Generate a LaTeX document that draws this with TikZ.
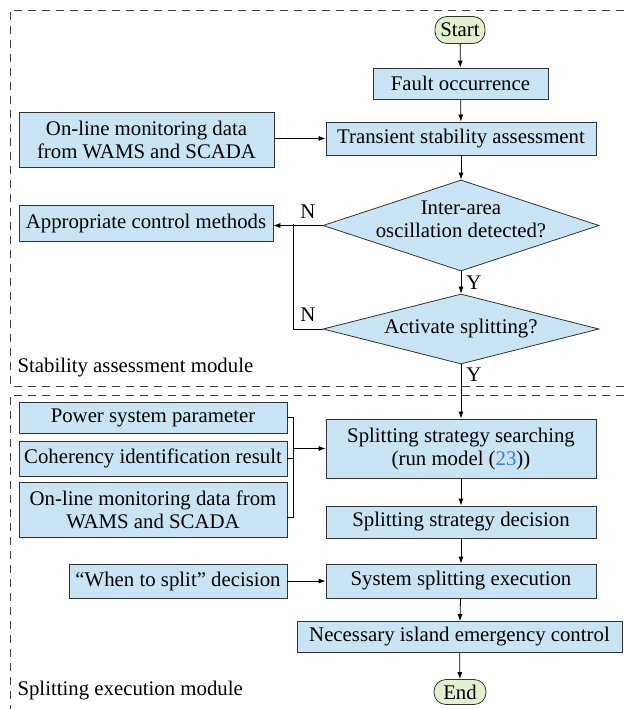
\documentclass[tikz,border=0pt]{standalone}
\usepackage{fontspec}
\setmainfont{Liberation Serif}
\usetikzlibrary{arrows.meta,shapes.geometric}

\definecolor{boxblue}{RGB}{200,228,245}
\definecolor{startgreen}{RGB}{226,240,205}
\definecolor{refblue}{RGB}{60,130,195}

\begin{document}
\begin{tikzpicture}[x=1pt,y=-1pt]

    % --- Grundeinstellungen für Styles ---
    % Eine Einheit entspricht einem Pixel des Bildes (y nach unten)
    \tikzset{
        process/.style={draw=black!80, line width=0.8pt, fill=boxblue, align=center, font=\rmfamily\fontsize{20.8}{23}\selectfont, inner sep=2pt},
        terminal/.style={process, fill=startgreen, rounded corners=12pt},
        decision/.style={draw=black!80, line width=0.8pt, fill=boxblue, diamond, minimum width=276pt, minimum height=91pt, inner sep=0pt},
        decisiontext/.style={font=\rmfamily\fontsize{20.8}{23}\selectfont, align=center},
        flow/.style={-{Latex[length=7pt,width=5pt]}, line width=0.8pt},
        link/.style={line width=0.8pt},
        answer/.style={font=\rmfamily\fontsize{20.8}{23}\selectfont},
        modlabel/.style={font=\rmfamily\fontsize{20.8}{23}\selectfont, anchor=west},
        frame/.style={dash pattern=on 8pt off 6pt, line width=0.8pt, draw=black!75}
    }

    \useasboundingbox (0,0) rectangle (624,709);

    % --- 1. Module (gestrichelte Rahmen) ---
    \draw[frame] (624,10) -- (10,10) -- (10,386) -- (624,386);
    \draw[frame] (624,395) -- (10,395) -- (10,712);

    \node[modlabel] (modstab) at (14,368) {Stability assessment module};
    \node[modlabel] (modsplit) at (14,691) {Splitting execution module};

    % --- 2. Bewertung der Stabilität ---
    \node[terminal, minimum width=50pt, minimum height=27pt] (start) at (460,30) {Start};
    \node[process, minimum width=175pt, minimum height=31pt] (fault) at (460.5,83.5) {Fault occurrence};
    \node[process, minimum width=270pt, minimum height=33pt] (assess) at (461,138.5) {Transient stability assessment};
    \node[process, minimum width=255pt, minimum height=55pt] (monitor) at (146.5,139.5) {On-line monitoring data\\from WAMS and SCADA};

    \node[decision, label={[decisiontext, yshift=6pt]center:Inter-area\\oscillation detected?}] (oscill) at (461,225.5) {};
    \node[process, minimum width=254pt, minimum height=36pt] (control) at (146,223) {Appropriate control methods};
    \node[decision, minimum height=70pt, label={[decisiontext]center:Activate splitting?}] (activate) at (461,329) {};

    % --- 3. Ausführung der Aufteilung ---
    \node[process, minimum width=268pt, minimum height=31pt] (param) at (153,417.5) {Power system parameter};
    \node[process, minimum width=268pt, minimum height=35pt] (coher) at (153,458.5) {Coherency identification result};
    \node[process, minimum width=268pt, minimum height=55pt] (monitorb) at (153,509.5) {On-line monitoring data from\\WAMS and SCADA};

    \node[process, minimum width=270pt, minimum height=59pt] (search) at (461,448.5) {Splitting strategy searching\\(run model (\textcolor{refblue}{23}))};
    \node[process, minimum width=270pt, minimum height=32pt] (decide) at (461,522) {Splitting strategy decision};
    \node[process, minimum width=218pt, minimum height=34pt] (when) at (178,581) {“When to split” decision};
    \node[process, minimum width=270pt, minimum height=34pt] (execute) at (461,581) {System splitting execution};
    \node[process, minimum width=325pt, minimum height=31pt] (island) at (459.5,637) {Necessary island emergency control};
    \node[terminal, minimum width=52pt, minimum height=25pt] (end) at (460,692) {End};

    % --- 4. Verbindungen ---
    \coordinate (joint) at (293,224);
    \coordinate (brB) at (293,517);

    \draw[flow] (start) -- (fault);
    \draw[flow] (fault) -- (assess);
    \draw[flow] (monitor.east |- assess) -- (assess);
    \draw[flow] (assess) -- (oscill);
    \draw[flow] (oscill.west) -- (oscill.west -| control.east);
    \draw[flow] (oscill) -- (activate);
    \draw[link] (activate.west) -| (joint);
    \draw[flow] (activate) -- (search);

    % Klammer der drei Eingaben
    \draw[link] (param.east) -| (brB) -- (brB -| monitorb.east);
    \draw[link] (coher.east) -- (coher.east -| brB);
    \draw[flow] (brB |- search.west) -- (search.west);

    \draw[flow] (search) -- (decide);
    \draw[flow] (decide) -- (execute);
    \draw[flow] (when) -- (execute);
    \draw[flow] (execute) -- (island);
    \draw[flow] (island) -- (end);

    % --- 5. Antworten Y/N ---
    \node[answer] (no1) at (308,212) {N};
    \node[answer] (no2) at (308,315) {N};
    \node[answer] (yes1) at (474,283) {Y};
    \node[answer] (yes2) at (474,375) {Y};

\end{tikzpicture}
\end{document}
